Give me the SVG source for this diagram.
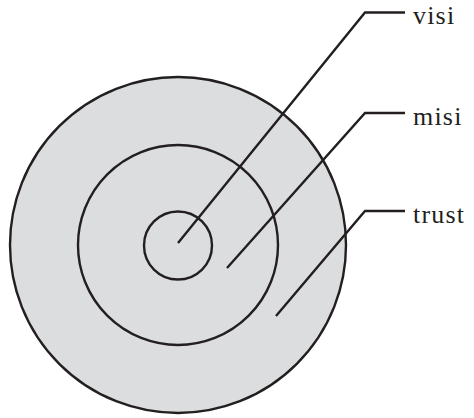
<svg xmlns="http://www.w3.org/2000/svg" width="474" height="418" viewBox="0 0 474 418">
<style>
.c{fill:#dcdddf;stroke:#231f20;stroke-width:2.4}
.l{fill:none;stroke:#231f20;stroke-width:2.4;stroke-linejoin:miter}
.t{font-family:"Liberation Serif",serif;font-size:26px;fill:#231f20;letter-spacing:1.2px}
</style>
<rect width="474" height="418" fill="#fff"/>
<g id="trust-ring"><circle class="c" cx="178" cy="245" r="168"/></g>
<g id="misi-ring"><circle class="c" cx="178" cy="245" r="100"/></g>
<g id="visi-ring"><circle class="c" cx="178" cy="245.5" r="34"/></g>
<g id="connectors">
<polyline class="l" points="178,243 365,12.5 405,12.5"/>
<polyline class="l" points="227,268 365,113 405,113"/>
<polyline class="l" points="276,316 365,211 405,211"/>
</g>
<g id="labels">
<text class="t" x="413" y="24">visi</text>
<text class="t" x="413" y="125">misi</text>
<text class="t" x="413" y="223">trust</text>
</g>
</svg>
